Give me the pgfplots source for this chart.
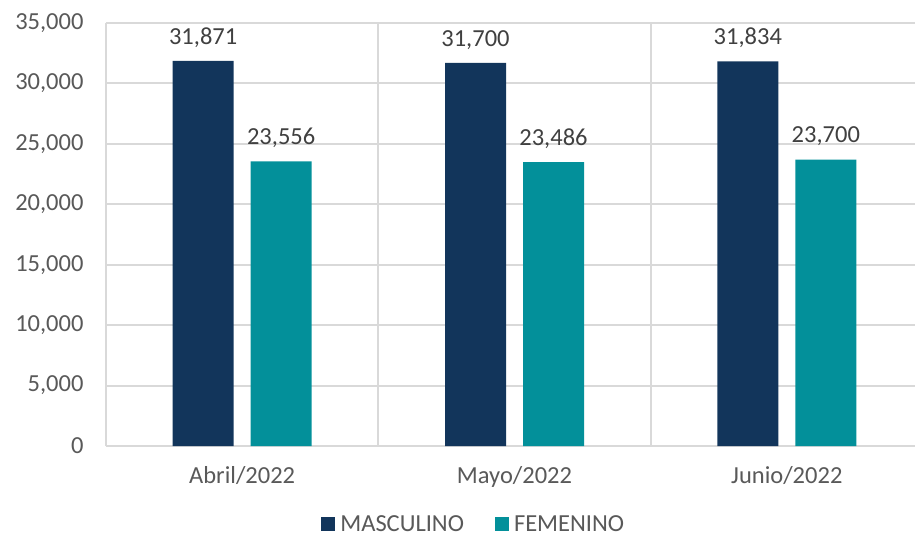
\documentclass[border=0pt]{standalone}
\usepackage{pgfplots}
\pgfplotsset{compat=1.18}
\usepackage{fontspec}
\setmainfont{Carlito}
\definecolor{masc}{HTML}{12355B}
\definecolor{fem}{HTML}{03909A}
\definecolor{gridc}{HTML}{D9D9D9}
\definecolor{tickc}{HTML}{595959}
\definecolor{labc}{HTML}{404040}
\newcommand\f{\fontsize{24.5bp}{29bp}\selectfont}
\pgfplotsset{/pgf/number format/.cd, 1000 sep={,}, assume math mode=true}
\begin{document}
\begin{tikzpicture}
\begin{axis}[
 at={(0,0)}, anchor=south west,
 scale only axis, width=817bp, height=423bp,
 xmin=-0.5, xmax=2.5, ymin=0, ymax=35000,
 xtick={0,1,2}, xticklabels={Abril/2022,Mayo/2022,Junio/2022},
 minor xtick={-0.5,0.5,1.5,2.5},
 xminorgrids, ymajorgrids,
 ytick={0,5000,...,35000},
 grid style={draw=gridc, line width=2bp},
 minor grid style={draw=gridc, line width=2bp},
 axis line style={draw=none},
 major tick length=0pt, minor tick length=0pt,
 tick label style={font=\f, text=tickc},
 yticklabel style={xshift=-19bp},
 xticklabel style={yshift=-17bp},
 scaled y ticks=false,
 ybar, bar width=61bp,
 nodes near coords,
 every node near coord/.append style={font=\f, text=labc, yshift=10bp},
 legend style={at={(0.452,-0.1845)}, anchor=center, legend columns=2, draw=none, font=\f, text=tickc,
   nodes={inner xsep=5bp, inner ysep=1bp},
   /tikz/every even column/.append style={column sep=26bp}},
 legend image code/.code={\fill[#1,draw=none] (0bp,-7bp) rectangle (14bp,7bp);},
]
\addplot[fill=masc, draw=none, bar shift=-39bp] coordinates {(0,31871) (1,31700) (2,31834)};
\addplot[fill=fem, draw=none, bar shift=39bp] coordinates {(0,23556) (1,23486) (2,23700)};
\legend{MASCULINO, FEMENINO}
\end{axis}
\pgfresetboundingbox
\path[use as bounding box] (-106bp,-92bp) rectangle (809bp,446bp);
\end{tikzpicture}
\end{document}
